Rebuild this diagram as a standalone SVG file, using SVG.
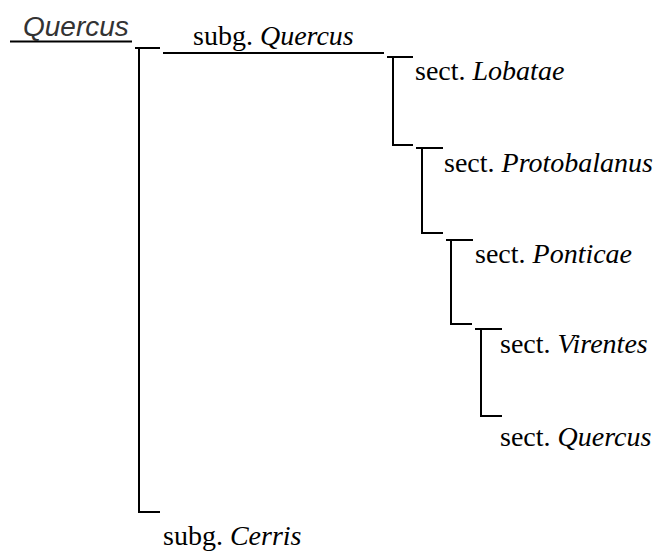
<svg xmlns="http://www.w3.org/2000/svg" width="659" height="552" viewBox="0 0 659 552">
<style>
.ln{stroke:#000;stroke-width:2;fill:none}
.t{font-family:'Liberation Serif','Times New Roman',Times,serif;font-size:28px;fill:#000}
.i{font-style:italic}
.root{font-family:'Liberation Sans',Arial,sans-serif;font-size:28px;font-style:italic;fill:#333}
</style>
<rect width="659" height="552" fill="#fff"/>
<g id="connectors">
<line class="ln" x1="10" y1="41.5" x2="132" y2="41.5"/>
<polyline class="ln" points="135,48 160,48"/>
<polyline class="ln" points="139,48 139,512 160,512"/>
<line class="ln" x1="163" y1="53" x2="384" y2="53"/>
<polyline class="ln" points="387,57 413,57"/>
<polyline class="ln" points="393,57 393,145 413,145"/>
<polyline class="ln" points="416,148 443,148"/>
<polyline class="ln" points="422,148 422,233 443,233"/>
<polyline class="ln" points="446,240 473,240"/>
<polyline class="ln" points="451,240 451,324 472,324"/>
<polyline class="ln" points="475,329 502,329"/>
<polyline class="ln" points="481,329 481,416 502,416"/>
</g>
<g id="node-root"><text class="root" x="23" y="36">Quercus</text></g>
<g id="node-subg-quercus"><text class="t" x="193" y="45">subg. <tspan class="i">Quercus</tspan></text></g>
<g id="node-subg-cerris"><text class="t" x="163" y="545">subg. <tspan class="i">Cerris</tspan></text></g>
<g id="node-lobatae"><text class="t" x="415" y="80">sect. <tspan class="i">Lobatae</tspan></text></g>
<g id="node-protobalanus"><text class="t" x="444" y="172">sect. <tspan class="i">Protobalanus</tspan></text></g>
<g id="node-ponticae"><text class="t" x="475" y="263">sect. <tspan class="i">Ponticae</tspan></text></g>
<g id="node-virentes"><text class="t" x="500" y="353">sect. <tspan class="i">Virentes</tspan></text></g>
<g id="node-sect-quercus"><text class="t" x="500" y="446">sect. <tspan class="i">Quercus</tspan></text></g>
</svg>
